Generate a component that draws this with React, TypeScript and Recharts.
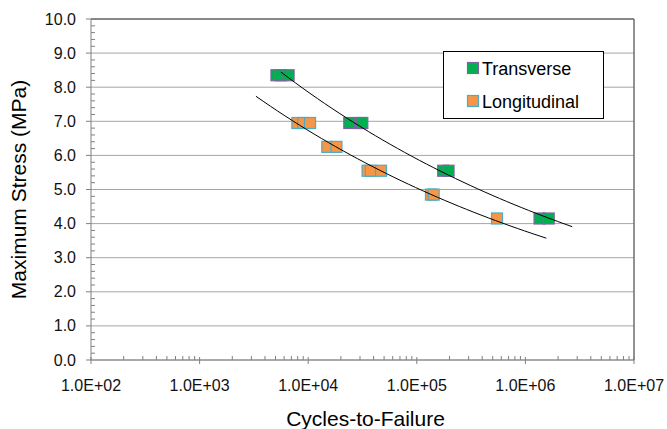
import { ScatterChart, Scatter, XAxis, YAxis, CartesianGrid, ReferenceLine, Legend } from 'recharts';

const FONT = '"Liberation Sans", Arial, Helvetica, sans-serif';

// cycles-to-failure / stress, replicates overlap at each stress level
const transverseCycles = [5100, 5600, 6600, 23900, 30200, 31500, 175000, 196000, 1350000, 1640000];
const transverseStress = [8.35, 8.35, 8.35, 6.95, 6.95, 6.95, 5.55, 5.55, 4.15, 4.15];

const longitudinalCycles = [7950, 9000, 10400, 15000, 18200, 35200, 37800, 46800, 135000, 143000, 548000];
const longitudinalStress = [6.95, 6.95, 6.95, 6.25, 6.25, 5.55, 5.55, 5.55, 4.85, 4.85, 4.15];

const seriesNames = ['Transverse', 'Longitudinal'];

const xTickValues = [1e2, 1e3, 1e4, 1e5, 1e6, 1e7];
const xTickLabels = ['1.0E+02', '1.0E+03', '1.0E+04', '1.0E+05', '1.0E+06', '1.0E+07'];
const yTickValues = [0, 1, 2, 3, 4, 5, 6, 7, 8, 9, 10];
const yTickLabels = ['0.0', '1.0', '2.0', '3.0', '4.0', '5.0', '6.0', '7.0', '8.0', '9.0', '10.0'];

// extent of the power trendlines (forecast backward/forward as in the sheet)
const transverseTrendRange = [5600, 2700000];
const longitudinalTrendRange = [3300, 1560000];

const toPoints = (xs: number[], ys: number[]) => xs.map((x, i) => ({ x, y: ys[i] }));

// least-squares power fit y = a * x^b (log-log regression)
function powerFit(xs: number[], ys: number[]) {
  const lx = xs.map(Math.log10);
  const ly = ys.map(Math.log10);
  const n = lx.length;
  const mx = lx.reduce((s, v) => s + v, 0) / n;
  const my = ly.reduce((s, v) => s + v, 0) / n;
  let sxy = 0;
  let sxx = 0;
  for (let i = 0; i < n; i++) {
    sxy += (lx[i] - mx) * (ly[i] - my);
    sxx += (lx[i] - mx) * (lx[i] - mx);
  }
  const b = sxy / sxx;
  const a = my - b * mx;
  return (x: number) => Math.pow(10, a + b * Math.log10(x));
}

function trendPoints(xs: number[], ys: number[], range: number[]) {
  const f = powerFit(xs, ys);
  const lo = Math.log10(range[0]);
  const hi = Math.log10(range[1]);
  const pts = [];
  for (let i = 0; i <= 40; i++) {
    const x = Math.pow(10, lo + ((hi - lo) * i) / 40);
    pts.push({ x, y: f(x) });
  }
  return pts;
}

const transverseData = toPoints(transverseCycles, transverseStress);
const longitudinalData = toPoints(longitudinalCycles, longitudinalStress);
const transverseTrend = trendPoints(transverseCycles, transverseStress, transverseTrendRange);
const longitudinalTrend = trendPoints(longitudinalCycles, longitudinalStress, longitudinalTrendRange);

const xAllTicks: number[] = [];
xTickValues.forEach((d, i) => {
  xAllTicks.push(d);
  if (i < xTickValues.length - 1) {
    for (let m = 2; m <= 9; m++) xAllTicks.push(d * m);
  }
});
const yAllTicks: number[] = [];
yTickValues.forEach((v, i) => {
  yAllTicks.push(v);
  if (i < yTickValues.length - 1) {
    for (let m = 1; m <= 4; m++) yAllTicks.push(Math.round((v + m * 0.2) * 10) / 10);
  }
});

const COLORS = {
  transverse: '#00B050',
  transverseEdge: '#8064A2',
  longitudinal: '#F79646',
  longitudinalEdge: '#4BACC6',
};

const square = (fill: string, stroke: string) => (props: any) => {
  const { cx, cy } = props;
  return <rect x={cx - 5.5} y={cy - 5.5} width={11} height={11} fill={fill} stroke={stroke} strokeWidth={1.2} />;
};

const XTick = (props: any) => {
  const { x, y, payload } = props;
  const idx = xTickValues.indexOf(payload.value);
  if (idx < 0) {
    return <line x1={x} x2={x} y1={y - 4} y2={y} stroke="#808080" />;
  }
  return (
    <g>
      <line x1={x} x2={x} y1={y - 3} y2={y + 4} stroke="#808080" />
      <text x={x} y={y + 31} textAnchor="middle" fontSize={16} fontFamily={FONT} fill="#111">
        {xTickLabels[idx]}
      </text>
    </g>
  );
};

const YTick = (props: any) => {
  const { x, y, payload } = props;
  const idx = yTickValues.indexOf(payload.value);
  if (idx < 0) {
    return <line x1={x} x2={x + 4} y1={y} y2={y} stroke="#808080" />;
  }
  return (
    <g>
      <line x1={x - 5} x2={x} y1={y} y2={y} stroke="#808080" />
      <text x={x - 15} y={y + 5.5} textAnchor="end" fontSize={16} fontFamily={FONT} fill="#111">
        {yTickLabels[idx]}
      </text>
    </g>
  );
};

const LegendBox = () => {
  const items = [
    { name: seriesNames[0], fill: COLORS.transverse, stroke: COLORS.transverseEdge },
    { name: seriesNames[1], fill: COLORS.longitudinal, stroke: COLORS.longitudinalEdge },
  ];
  return (
    <svg width={162} height={69} style={{ display: 'block' }}>
      <rect x={0.5} y={0.5} width={160} height={67} fill="#fff" stroke="#000" strokeWidth={1} />
      {items.map((it, i) => (
        <g key={it.name}>
          <rect x={24.5} y={11.5 + i * 33} width={11} height={11} fill={it.fill} stroke={it.stroke} strokeWidth={1.2} />
          <text x={39} y={24 + i * 33} fontSize={18} fontFamily={FONT} fill="#000">
            {it.name}
          </text>
        </g>
      ))}
    </svg>
  );
};

export default function App() {
  return (
    <div style={{ position: 'absolute', left: 0, top: 0, background: '#fff' }}>
      <ScatterChart width={667} height={429} margin={{ top: 19, right: 33, bottom: 9, left: 31 }}>
        <CartesianGrid horizontalValues={yTickValues} vertical={false} stroke="#a6a6a6" />
        <XAxis
          dataKey="x"
          type="number"
          scale="log"
          domain={[1e2, 1e7]}
          ticks={xAllTicks}
          interval={0}
          tick={<XTick />}
          tickLine={false}
          tickSize={0}
          tickMargin={0}
          height={60}
          stroke="#808080"
          allowDataOverflow
          label={{
            content: (p: any) => {
              const vb = p.viewBox;
              return (
                <text x={vb.x + vb.width / 2 + 3} y={vb.y + 66} textAnchor="middle" fontSize={21} fontFamily={FONT} fill="#000">
                  Cycles-to-Failure
                </text>
              );
            },
          }}
        />
        <YAxis
          dataKey="y"
          type="number"
          domain={[0, 10]}
          ticks={yAllTicks}
          interval={0}
          tick={<YTick />}
          tickLine={false}
          tickSize={0}
          tickMargin={0}
          width={60}
          stroke="#808080"
          allowDataOverflow
          label={{
            content: (p: any) => {
              const vb = p.viewBox;
              const cx = 26;
              const cy = vb.y + vb.height / 2;
              return (
                <text x={cx} y={cy} transform={`rotate(-90, ${cx}, ${cy})`} textAnchor="middle" fontSize={21} fontFamily={FONT} fill="#000">
                  Maximum Stress (MPa)
                </text>
              );
            },
          }}
        />
        <ReferenceLine y={10} stroke="#6e6e6e" strokeWidth={1.5} />
        <ReferenceLine x={1e7} stroke="#6e6e6e" strokeWidth={1.5} />
        <Scatter
          name={seriesNames[0]}
          data={transverseData}
          shape={square(COLORS.transverse, COLORS.transverseEdge)}
          isAnimationActive={false}
        />
        <Scatter
          name={seriesNames[1]}
          data={longitudinalData}
          shape={square(COLORS.longitudinal, COLORS.longitudinalEdge)}
          isAnimationActive={false}
        />
        <Scatter
          data={transverseTrend}
          line={{ stroke: '#000', strokeWidth: 1 }}
          lineType="joint"
          shape={() => <g />}
          legendType="none"
          isAnimationActive={false}
        />
        <Scatter
          data={longitudinalTrend}
          line={{ stroke: '#000', strokeWidth: 1 }}
          lineType="joint"
          shape={() => <g />}
          legendType="none"
          isAnimationActive={false}
        />
        <Legend
          layout="vertical"
          align="center"
          verticalAlign="middle"
          content={() => <LegendBox />}
          wrapperStyle={{ position: 'absolute', left: 443, top: 51, width: 162, height: 69 }}
        />
      </ScatterChart>
    </div>
  );
}
